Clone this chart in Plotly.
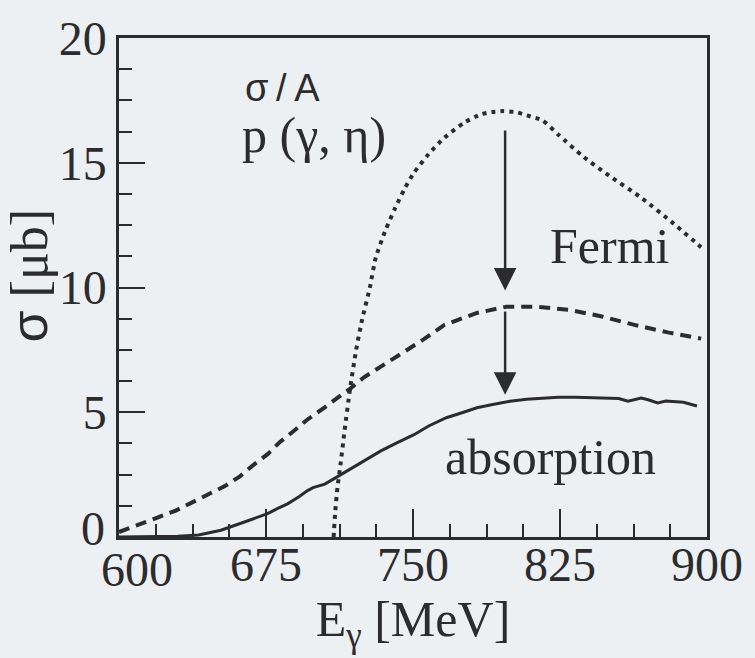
import numpy as np
import plotly.graph_objects as go

# ---- data ----
E_free = [709.5, 710.3, 711.5, 713, 715, 718, 721, 724, 728, 731, 736, 741, 746, 750.5,
          758, 766, 776, 785, 790, 796, 803, 808, 816, 824.5, 836, 849.7, 866.4, 883, 896.5, 899]
sig_free = [0.0, 1.0, 2.0, 2.9, 4.2, 6.0, 7.5, 8.7, 10.0, 11.2, 12.3, 13.2, 14.0, 14.6,
            15.35, 16.0, 16.6, 16.95, 17.03, 17.07, 17.02, 16.9, 16.7, 16.1, 15.3, 14.5, 13.6, 12.56, 11.65, 11.5]

E_fermi = [600, 605, 610.5, 619.6, 629, 637, 645.7, 654, 661.7, 668, 676, 682, 689, 696, 705, 712,
           718, 725, 735, 745, 755, 766, 782.6, 797.7, 812.8, 829.8, 846.4, 863, 880, 897]
sig_fermi = [0.2, 0.35, 0.55, 0.78, 1.06, 1.37, 1.73, 2.04, 2.43, 2.85, 3.33, 3.8, 4.24, 4.7, 5.2, 5.6,
             5.95, 6.4, 6.9, 7.4, 7.9, 8.5, 8.98, 9.23, 9.23, 9.1, 8.84, 8.5, 8.2, 7.95]

E_abs = [600, 615, 630, 640.6, 652, 664, 675.8, 681, 686, 692, 696, 699, 702, 705, 710, 716, 724,
         733.6, 742, 750.5, 758, 767, 775, 782.6, 790, 799.5, 808, 816, 824, 833, 841, 849.7, 855,
         859.7, 863, 866.4, 870, 874.8, 879, 883, 888, 894.9]
sig_abs = [0.0, 0.0, 0.03, 0.08, 0.27, 0.6, 0.94, 1.15, 1.33, 1.62, 1.85, 1.98, 2.04, 2.12, 2.35, 2.63, 3.0,
           3.45, 3.78, 4.1, 4.45, 4.78, 4.98, 5.18, 5.3, 5.44, 5.52, 5.57, 5.6, 5.6, 5.58, 5.57, 5.55,
           5.44, 5.5, 5.57, 5.5, 5.37, 5.45, 5.44, 5.4, 5.25]

x_ticks = [600, 675, 750, 825, 900]
x_ticktext = ["", "675", "750", "825", "900"]   # the "600" is drawn shifted right, as in the reference
x_first_label = "600"
y_ticks = [0, 5, 10, 15, 20]
y_ticktext = ["", "5", "10", "15", "20"]        # the "0" is drawn raised, as in the reference
y_zero_label = "0"

arrow_E = 797
arrow_upper = (16.35, 9.88)
arrow_lower = (9.1, 5.7)

INK = "#2c2c2e"
BG = "#edf0f3"
SERIF = "Liberation Serif"

fig = go.Figure()
fig.add_trace(go.Scatter(x=E_free, y=sig_free, mode="lines", line_shape="spline",
                         line=dict(color=INK, width=4, dash="4px,5px", smoothing=0.6), hoverinfo="skip"))
fig.add_trace(go.Scatter(x=E_fermi, y=sig_fermi, mode="lines",
                         line=dict(color=INK, width=4, dash="11px,7px"), hoverinfo="skip"))
fig.add_trace(go.Scatter(x=E_abs, y=sig_abs, mode="lines",
                         line=dict(color=INK, width=3), hoverinfo="skip"))

for (y0, y1) in (arrow_upper, arrow_lower):
    fig.add_annotation(x=arrow_E, y=y1, ax=arrow_E, ay=y0, xref="x", yref="y",
                       axref="x", ayref="y", text="", showarrow=True,
                       arrowhead=2, arrowsize=1.8, arrowwidth=2.5, arrowcolor=INK, standoff=0)

fig.add_annotation(x=683.5, y=18.0, xref="x", yref="y", text="σ\u2009/\u2009A", showarrow=False,
                   font=dict(family="Liberation Sans", size=38, color=INK))
fig.add_annotation(x=699.6, y=16.13, xref="x", yref="y", text="p (γ, η)", showarrow=False,
                   font=dict(family=SERIF, size=50, color=INK))
fig.add_annotation(x=850, y=11.65, xref="x", yref="y", text="Fermi", showarrow=False,
                   font=dict(family=SERIF, size=50, color=INK))
fig.add_annotation(x=820, y=3.2, xref="x", yref="y", text="absorption", showarrow=False,
                   font=dict(family=SERIF, size=50, color=INK))

# raised "0" tick label of the y axis
fig.add_annotation(x=0, y=y_ticks[0], xref="paper", yref="y", text=y_zero_label, showarrow=False,
                   xanchor="right", yanchor="middle", xshift=-12, yshift=9,
                   font=dict(family=SERIF, size=48, color=INK))
# shifted "600" tick label of the x axis
fig.add_annotation(x=x_ticks[0], y=0, xref="x", yref="paper", text=x_first_label, showarrow=False,
                   xanchor="center", yanchor="middle", xshift=18, yshift=-32,
                   font=dict(family=SERIF, size=48, color=INK))
# y axis title
fig.add_annotation(x=0, y=0.5, xref="paper", yref="paper",
                   text='<span style="font-family:Liberation Sans">σ</span> [μb]',
                   showarrow=False, textangle=-90, xanchor="center", yanchor="middle",
                   xshift=-91, yshift=12, font=dict(family=SERIF, size=52, color=INK))

axis_common = dict(showline=True, linewidth=2.5, linecolor=INK, mirror=True, ticks="inside",
                   tickcolor=INK, tickwidth=2, showgrid=False, zeroline=False,
                   tickfont=dict(family=SERIF, size=48, color=INK))

fig.update_xaxes(range=[600, 900], tickmode="array", tickvals=x_ticks, ticktext=x_ticktext,
                 ticklen=28, ticklabelstandoff=-16,
                 minor=dict(tickmode="array", tickvals=list(np.arange(600, 900.1, 18.75)),
                            ticks="inside", ticklen=13, tickcolor=INK, tickwidth=2),
                 title=dict(text="E<sub>γ</sub> [MeV]", font=dict(family=SERIF, size=50, color=INK),
                            standoff=8),
                 **axis_common)
fig.update_yaxes(range=[0, 20], tickmode="array", tickvals=y_ticks, ticktext=y_ticktext,
                 ticklen=26,
                 minor=dict(tickmode="array", tickvals=list(np.arange(0, 20.01, 1.25)),
                            ticks="inside", ticklen=13, tickcolor=INK, tickwidth=2),
                 **axis_common)

fig.update_layout(width=755, height=658, margin=dict(l=119, r=38, t=27, b=121),
                  font=dict(family=SERIF, color=INK),
                  paper_bgcolor=BG, plot_bgcolor=BG, showlegend=False)

fig.write_html("out.html")
